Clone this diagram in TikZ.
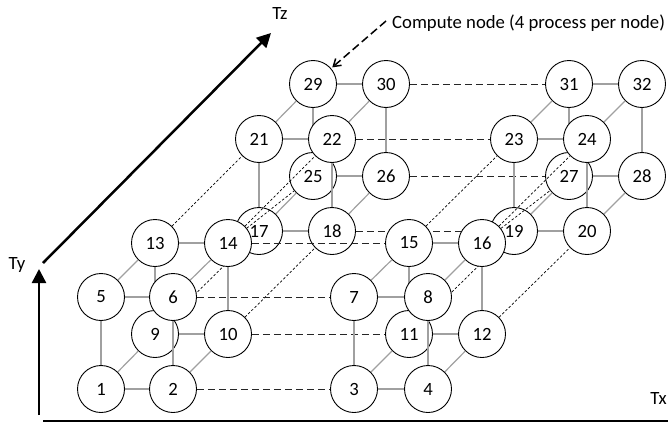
\documentclass[tikz,border=0pt]{standalone}
\usepackage{fontspec}
\setmainfont{Carlito}
\usetikzlibrary{arrows.meta}
\definecolor{lgray}{RGB}{160,160,160}
\pgfdeclarelayer{la}
\pgfdeclarelayer{lb}
\pgfdeclarelayer{lc}
\pgfdeclarelayer{ld}
\pgfdeclarelayer{le}
\pgfdeclarelayer{lf}
\pgfdeclarelayer{lg}
\pgfsetlayers{la,lb,lc,ld,le,lf,lg,main}
\begin{document}
\begin{tikzpicture}[x=1pt,y=-1pt,
  pnode/.style={circle,draw=black,fill=white,line width=0.9pt,minimum size=47pt,inner sep=0pt,font=\fontsize{18.7}{21}\selectfont},
  solidedge/.style={draw=lgray,line width=1.2pt},
  longedge/.style={draw=black!85,line width=1pt,dash pattern=on 7pt off 4pt},
  dotedge/.style={draw=black,line width=0.7pt,dash pattern=on 2.5pt off 2pt},
  axisline/.style={line width=2.5pt,-{Triangle[length=14pt,width=14pt]}},
  lbl/.style={font=\fontsize{18.7}{21}\selectfont,inner sep=0pt}]
\useasboundingbox (0,0) rectangle (668,431);
% nodes, z = 3
\begin{pgfonlayer}{lb}
\foreach \n/\x/\y in {25/313/176,26/386/176,27/569/176,28/642/176,29/313/84,30/386/84,31/569/84,32/642/84}
  \node[pnode] (n\n) at (\x,\y) {\n};
\end{pgfonlayer}
% nodes, z = 2
\begin{pgfonlayer}{ld}
\foreach \n/\x/\y in {17/259/231,18/332/231,19/514/231,20/587/231,21/259/139,22/332/139,23/514/139,24/587/139}
  \node[pnode] (n\n) at (\x,\y) {\n};
\end{pgfonlayer}
% nodes, z = 1
\begin{pgfonlayer}{lf}
\foreach \n/\x/\y in {9/155/334,10/228/334,11/409/334,12/482/334,13/155/243,14/228/243,15/409/243,16/482/243}
  \node[pnode] (n\n) at (\x,\y) {\n};
\end{pgfonlayer}
% nodes, z = 0
\foreach \n/\x/\y in {1/101/389,2/173/389,3/354/389,4/428/389,5/101/297,6/173/297,7/354/297,8/428/297}
  \node[pnode] (n\n) at (\x,\y) {\n};
% edges, z = 3
\begin{pgfonlayer}{la}
\foreach \a/\b in {25/26,27/28,29/30,31/32,25/29,26/30,27/31,28/32}
  \draw[solidedge] (n\a) -- (n\b);
\draw[longedge] (n26) -- (n27);
\draw[longedge] (n30) -- (n31);
\end{pgfonlayer}
% edges, z = 2 and z2-z3
\begin{pgfonlayer}{lc}
\foreach \a/\b in {17/25,18/26,19/27,20/28,21/29,22/30,23/31,24/32,17/18,19/20,21/22,23/24,17/21,18/22,19/23,20/24}
  \draw[solidedge] (n\a) -- (n\b);
\draw[longedge] (n18) -- (n19);
\draw[longedge] (n22) -- (n23);
\end{pgfonlayer}
% edges, z = 1 and z1-z2
\begin{pgfonlayer}{le}
\foreach \a/\b in {9/17,10/18,11/19,12/20,13/21,14/22,15/23,16/24,14/25,16/27}
  \draw[dotedge] (n\a) -- (n\b);
\foreach \a/\b in {9/10,11/12,13/14,15/16,9/13,10/14,11/15,12/16}
  \draw[solidedge] (n\a) -- (n\b);
\draw[longedge] (n10) -- (n11);
\draw[longedge] (n14) -- (n15);
\end{pgfonlayer}
% edges, z = 0 and z0-z1
\begin{pgfonlayer}{lg}
\foreach \a/\b in {1/9,2/10,3/11,4/12,5/13,6/14,7/15,8/16,1/2,3/4,5/6,7/8,1/5,2/6,3/7,4/8}
  \draw[solidedge] (n\a) -- (n\b);
\draw[longedge] (n2) -- (n3);
\draw[longedge] (n6) -- (n7);
\end{pgfonlayer}
% axes
\coordinate (tya) at (39,415);
\coordinate (tyb) at (39,269);
\coordinate (tza) at (43,263);
\coordinate (tzb) at (271,33);
\coordinate (txa) at (43,421);
\coordinate (txb) at (700,421);
\draw[axisline] (tya) -- (tyb);
\draw[axisline] (tza) -- (tzb);
\draw[axisline] (txa) -- (txb);
\node[lbl] (ty) at (17,265) {Ty};
\node[lbl] (tz) at (280,14) {Tz};
\node[lbl,anchor=east] (tx) at (667,398) {Tx};
% annotation
\node[lbl,anchor=west] (cn) at (392,23) {Compute node (4 process per node)};
\coordinate (ca) at (386,21);
\draw[line width=1.5pt,dash pattern=on 8pt off 4pt,-{Straight Barb[length=7pt,width=9pt,line width=1.5pt]},shorten >=1.5pt] (ca) -- (n29);
\end{tikzpicture}
\end{document}
